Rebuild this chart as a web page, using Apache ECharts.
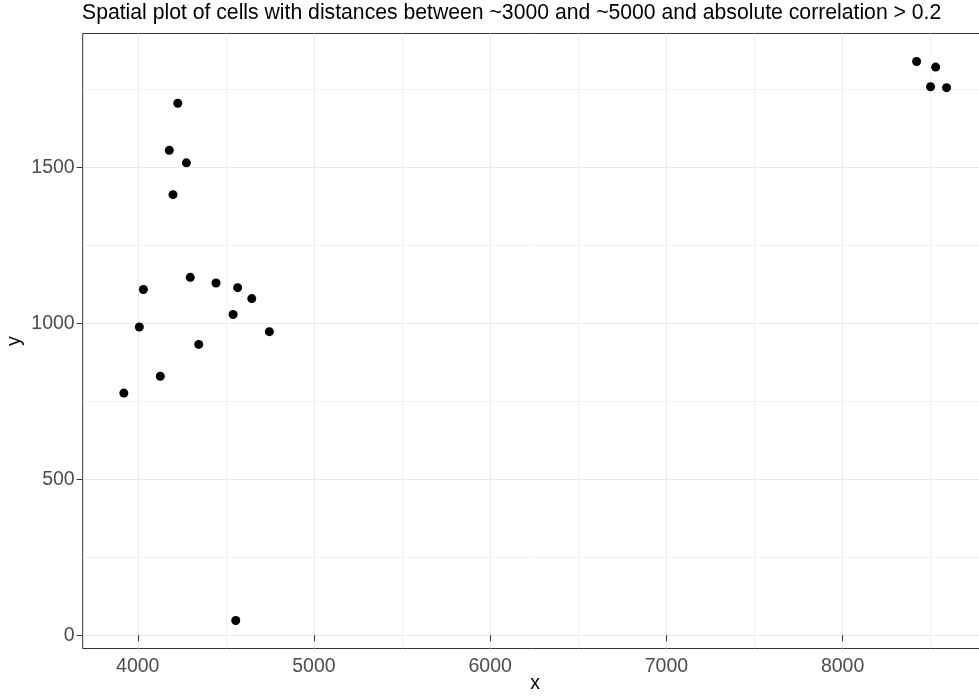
<!DOCTYPE html>
<html>
<head>
<meta charset="utf-8">
<script src="https://cdn.jsdelivr.net/npm/echarts@6/dist/echarts.min.js"></script>
<style>
  html, body { margin: 0; padding: 0; background: #ffffff; }
  #chart { width: 979px; height: 696px; }
</style>
</head>
<body>
<div id="chart"></div>
<script>
// Cell coordinates (x, y) passing the distance and correlation filters
const cellX = [4227, 4179, 4276, 4200, 4298, 4444, 4567, 4032, 4647, 4541,
               4009, 4747, 4346, 4128, 3921, 4556, 8420, 8528, 8499, 8590];
const cellY = [1705, 1554, 1514, 1412, 1147, 1129, 1114, 1108, 1079, 1028,
               988, 973, 932, 830, 776, 47, 1839, 1821, 1758, 1755];

// Axis breaks
const xBreaks = [4000, 5000, 6000, 7000, 8000];
const xMinorBreaks = [4500, 5500, 6500, 7500, 8500];
const yBreaks = [0, 500, 1000, 1500];
const yMinorBreaks = [250, 750, 1250, 1750];

// Padded ranges: data extent widened by 5% on each side
function padded(values) {
  const lo = Math.min(...values), hi = Math.max(...values);
  const pad = (hi - lo) * 0.05;
  return [lo - pad, hi + pad];
}
const xRange = padded(cellX);
const yRange = padded(cellY);

const points = cellX.map((x, i) => [x, cellY[i]]);

const FONT = 'Liberation Sans, Arial, sans-serif';
const GRID_COLOR = '#EBEBEB';
const INK = '#333333';
const LABEL = '#4D4D4D';
const TICK_SIZE = 19.5;

const chart = echarts.init(document.getElementById('chart'), null, { renderer: 'canvas' });

const majorAxis = (range, breaks, extra) => Object.assign({
  type: 'value',
  min: range[0],
  max: range[1],
  gridIndex: 0,
  axisLine: { show: false },
  axisTick: { show: true, length: 6, lineStyle: { color: INK, width: 1 }, customValues: breaks },
  axisLabel: {
    show: true, color: LABEL, fontSize: TICK_SIZE, fontFamily: FONT, customValues: breaks,
    margin: 8, formatter: v => String(v)
  },
  splitLine: { show: true, lineStyle: { color: GRID_COLOR, width: 1.1 } },
  minorTick: { show: false },
  minorSplitLine: { show: false },
  nameMoveOverlap: false,
  z: 1
}, extra);

const minorAxis = (range, breaks) => ({
  type: 'value',
  min: range[0],
  max: range[1],
  gridIndex: 0,
  axisLine: { show: false },
  axisTick: { show: false, customValues: breaks },
  axisLabel: { show: false },
  splitLine: { show: true, lineStyle: { color: GRID_COLOR, width: 0.6 } },
  z: 0
});

chart.setOption({
  animation: false,
  backgroundColor: '#ffffff',
  title: {
    text: 'Spatial plot of cells with distances between ~3000 and ~5000 and absolute correlation > 0.2',
    left: 82,
    top: 3,
    padding: 0,
    textStyle: { color: '#000000', fontSize: 21.2, fontWeight: 'normal', fontFamily: FONT }
  },
  grid: {
    left: 82.7,
    top: 33.5,
    width: 905,
    height: 615,
    show: true,
    borderColor: INK,
    borderWidth: 1,
    backgroundColor: 'transparent',
    containLabel: false,
    outerBoundsMode: 'none'
  },
  xAxis: [
    majorAxis(xRange, xBreaks, {
      position: 'bottom',
      name: 'x',
      nameLocation: 'middle',
      nameGap: 25,
      nameTextStyle: { color: '#000000', fontSize: TICK_SIZE, fontFamily: FONT }
    }),
    minorAxis(xRange, xMinorBreaks)
  ],
  yAxis: [
    majorAxis(yRange, yBreaks, {
      position: 'left',
      name: 'y',
      nameLocation: 'middle',
      nameGap: 58,
      nameRotate: 90,
      nameTextStyle: { color: '#000000', fontSize: TICK_SIZE, fontFamily: FONT }
    }),
    minorAxis(yRange, yMinorBreaks)
  ],
  series: [{
    type: 'scatter',
    xAxisIndex: 0,
    yAxisIndex: 0,
    data: points,
    symbol: 'circle',
    symbolSize: 9,
    itemStyle: { color: '#000000', opacity: 1 },
    z: 5
  }]
});
</script>
</body>
</html>
